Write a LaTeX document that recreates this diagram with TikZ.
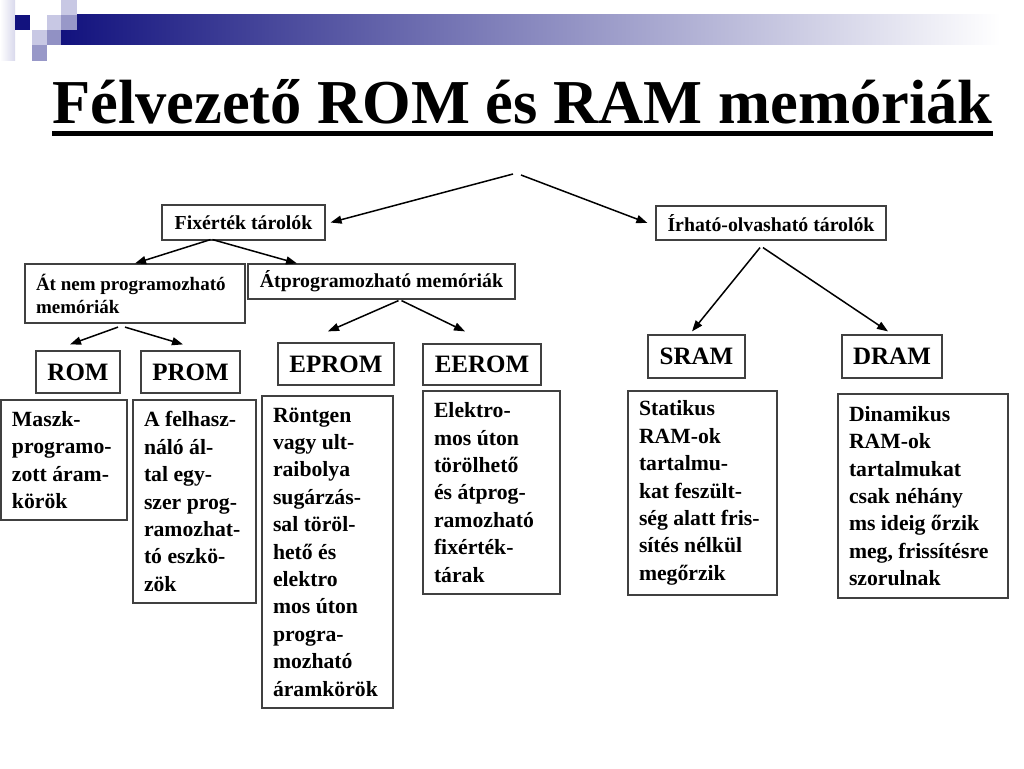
\documentclass[tikz,border=0pt]{standalone}
\usepackage{fontspec}
\setmainfont{Liberation Serif}
\usetikzlibrary{arrows.meta}
\hyphenpenalty=10000
\exhyphenpenalty=10000
\definecolor{navy}{HTML}{12127E}
\definecolor{lav}{HTML}{C8C8E4}
\definecolor{midlav}{HTML}{9898C8}
\definecolor{barmid}{HTML}{9A9AB4}
\begin{document}
\begin{tikzpicture}[x=1pt,y=-1pt,
  box/.style={draw=black!75, line width=1.2pt, rectangle, inner sep=0pt, font=\fontsize{19.8}{23}\selectfont\bfseries},
  lab/.style={draw=black!75, line width=1.2pt, rectangle, inner sep=0pt, font=\fontsize{25}{28}\selectfont\bfseries},
  desc/.style={draw=black!75, line width=1.2pt, rectangle, inner xsep=11pt, inner ysep=0pt, align=flush left, font=\fontsize{21.7}{27.4}\selectfont\bfseries},
  arr/.style={line width=1.5pt, -{Triangle[length=11pt,width=8pt]}}]
\useasboundingbox (0,0) rectangle (1024,768);
\fill[white] (0,0) rectangle (1024,768);
% logo and bar
\fill[left color=white, right color=lav!70] (0,0) rectangle (15,60);
\fill[left color=navy, middle color=barmid, right color=white] (61,15) rectangle (1000,45);
\fill[lav] (61,0) rectangle (77,15);
\fill[navy] (15,15) rectangle (30,30);
\fill[lav] (47,15) rectangle (61,30);
\fill[midlav] (61,15) rectangle (77,30);
\fill[lav] (32,30) rectangle (47,45);
\fill[midlav!95!navy] (47,30) rectangle (61,45);
\fill[midlav] (32,45) rectangle (47,61);
% title
\node[anchor=base west, inner sep=0pt] (title) at (52,123) {\resizebox{940pt}{!}{\fontsize{60}{60}\selectfont\bfseries Félvezető ROM és RAM memóriák}};
\fill[black] (52,131) rectangle (993,136);
% level 1
\node[box, minimum width=163pt, minimum height=35pt] (fix) at (243.5,222.5) {Fixérték tárolók};
\node[box, minimum width=230pt, minimum height=34pt] (irh) at (771,223) {Írható-olvasható tárolók};
% level 2
\node[box, minimum width=220pt, minimum height=59pt, text width=198pt, inner xsep=11pt, align=flush left, font=\fontsize{19}{23}\selectfont\bfseries] (atnem) at (135,293.5) {Át nem programozható\\memóriák};
\node[box, minimum width=267pt, minimum height=35pt] (atprog) at (381.5,281.5) {Átprogramozható memóriák};
% level 3
\node[lab, minimum width=84pt, minimum height=42pt] (rom) at (78,372) {ROM};
\node[lab, minimum width=99pt, minimum height=42pt] (prom) at (190.5,372) {PROM};
\node[lab, minimum width=116pt, minimum height=42pt] (eprom) at (336,364) {EPROM};
\node[lab, minimum width=118pt, minimum height=41pt] (eerom) at (482,364.5) {EEROM};
\node[lab, minimum width=97pt, minimum height=43pt] (sram) at (696.5,356.5) {SRAM};
\node[lab, minimum width=100pt, minimum height=43pt] (dram) at (892,356.5) {DRAM};
% descriptions
\node[desc, minimum width=126pt, minimum height=120pt, text width=104pt] (romd) at (64,460) {Maszk-\\programo-\\zott áram-\\körök};
\node[desc, minimum width=123pt, minimum height=203pt, text width=101pt] (promd) at (194.5,501.5) {A felhasz-\\náló ál-\\tal egy-\\szer prog-\\ramozhat-\\tó eszkö-\\zök};
\node[desc, minimum width=131pt, minimum height=312pt, text width=109pt] (epromd) at (327.5,552) {Röntgen\\vagy ult-\\raibolya\\sugárzás-\\sal töröl-\\hető és\\elektro\\mos úton\\progra-\\mozható\\áramkörök};
\node[desc, minimum width=137pt, minimum height=203pt, text width=115pt] (eeromd) at (491.5,492.5) {Elektro-\\mos úton\\törölhető\\és átprog-\\ramozható\\fixérték-\\tárak};
\node[desc, minimum width=149pt, minimum height=204pt, text width=127pt] (sramd) at (702.5,493) {Statikus\\RAM-ok\\tartalmu-\\kat feszült-\\ség alatt fris-\\sítés nélkül\\megőrzik};
\node[desc, minimum width=170pt, minimum height=204pt, text width=148pt] (dramd) at (923,496) {Dinamikus\\RAM-ok\\tartalmukat\\csak néhány\\ms ideig őrzik\\meg, frissítésre\\szorulnak};
% connectors
\coordinate (apexL) at (513,174);
\coordinate (apexR) at (521,175);
\draw[arr] (apexL) -- ([xshift=5pt]fix.east);
\draw[arr] (apexR) -- ([xshift=-8pt]irh.west);
\draw[arr] ([xshift=-33pt,yshift=1pt]fix.south) -- (atnem.north);
\draw[arr] ([xshift=-31pt,yshift=1pt]fix.south) -- ([xshift=-84.5pt]atprog.north);
\draw[arr] ([xshift=17pt,yshift=-1pt]atprog.south) -- ([xshift=-8pt,yshift=11pt]eprom.north);
\draw[arr] ([xshift=20pt,yshift=-1pt]atprog.south) -- ([xshift=-17pt,yshift=12pt]eerom.north);
\draw[arr] ([xshift=-17pt,yshift=-3.5pt]atnem.south) -- ([xshift=-8pt,yshift=6pt]rom.north);
\draw[arr] ([xshift=-10pt,yshift=-3.5pt]atnem.south) -- ([xshift=-7.5pt,yshift=6pt]prom.north);
\draw[arr] ([xshift=-11pt,yshift=-7pt]irh.south) -- ([xshift=-4.5pt,yshift=3pt]sram.north);
\draw[arr] ([xshift=-8pt,yshift=-7pt]irh.south) -- ([xshift=-4pt,yshift=3pt]dram.north);
\end{tikzpicture}
\end{document}
